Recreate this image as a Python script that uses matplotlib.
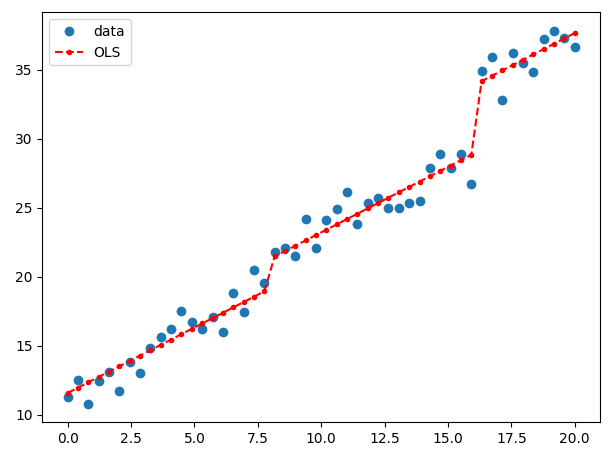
import numpy as np
import matplotlib.pyplot as plt

x = np.linspace(0, 20, 50)
y = [11.3, 12.5, 10.8, 12.4, 13.1, 11.7, 13.8, 13.0, 14.8, 15.6,
     16.2, 17.5, 16.7, 16.2, 17.1, 16.0, 18.8, 17.4, 20.5, 19.5,
     21.8, 22.1, 21.5, 24.2, 22.1, 24.1, 24.9, 26.1, 23.8, 25.3,
     25.7, 25.0, 25.0, 25.3, 25.5, 27.9, 28.9, 27.9, 28.9, 26.7,
     34.9, 35.9, 32.8, 36.2, 35.5, 34.8, 37.2, 37.8, 37.3, 36.6]
groups = [0] * 20 + [1] * 20 + [2] * 10

# OLS with group dummies
g = np.array(groups)
X = np.column_stack([x, g == 1, g == 2, np.ones_like(x)]).astype(float)
beta, *_ = np.linalg.lstsq(X, np.array(y), rcond=None)
fitted = X @ beta

fig = plt.figure(figsize=(6.13, 4.53), dpi=100)
ax = fig.add_axes([0.069, 0.068, 0.910, 0.905])
ax.plot(x, y, 'o', label="data")
ax.plot(x, fitted, 'r--.', label="OLS")
ax.legend(loc="best")
fig.savefig("out.png")
